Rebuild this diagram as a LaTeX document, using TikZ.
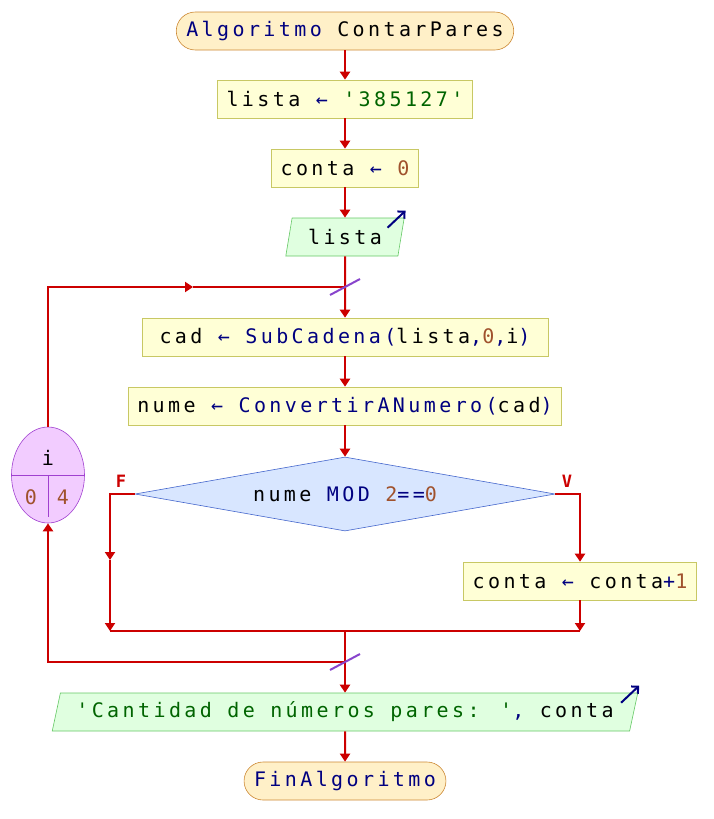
\documentclass[tikz,border=0pt]{standalone}
\usepackage{fontspec}
\newfontfamily\codefont{DejaVu Sans Mono}[LetterSpace=17]
\usetikzlibrary{arrows.meta,shapes.geometric,calc}
\definecolor{kwblue}{HTML}{000080}
\definecolor{strgreen}{HTML}{006400}
\definecolor{numbrown}{HTML}{A0522D}
\definecolor{flowred}{HTML}{CC0000}
\definecolor{termfill}{HTML}{FFF0C8}
\definecolor{termdraw}{HTML}{CC8833}
\definecolor{procfill}{HTML}{FFFFD6}
\definecolor{procdraw}{HTML}{C8C864}
\definecolor{iofill}{HTML}{E0FFE0}
\definecolor{iodraw}{HTML}{66C866}
\definecolor{condfill}{HTML}{D8E6FF}
\definecolor{conddraw}{HTML}{4466CC}
\definecolor{loopfill}{HTML}{F2CCFF}
\definecolor{loopdraw}{HTML}{A040D0}
\definecolor{slashviolet}{HTML}{8844CC}
\newcommand{\kw}[1]{\textcolor{kwblue}{#1}}
\newcommand{\str}[1]{\textcolor{strgreen}{#1}}
\newcommand{\num}[1]{\textcolor{numbrown}{#1}}

\begin{document}
\begin{tikzpicture}[x=1pt,y=-1pt,font={\codefont\fontsize{20pt}{24pt}\selectfont},
    terminal/.style = {rectangle,rounded corners=19pt,draw=termdraw,fill=termfill,semithick,minimum height=38pt,inner xsep=10pt,inner ysep=0pt},
    procbox/.style = {rectangle,draw=procdraw,fill=procfill,semithick,minimum height=38pt,inner xsep=9pt,inner ysep=0pt},
    iobox/.style = {trapezium,trapezium left angle=68,trapezium right angle=112,trapezium stretches body=true,draw=iodraw,fill=iofill,semithick,minimum height=38pt,inner xsep=16pt,inner ysep=0pt},
    decision/.style = {diamond,aspect=5.7,draw=conddraw,fill=condfill,semithick,minimum width=420pt,minimum height=74pt,inner sep=0pt},
    loopvar/.style = {ellipse,draw=loopdraw,fill=loopfill,semithick,minimum width=73pt,minimum height=96pt},
    line/.style = {draw=flowred,line width=2pt},
    flow/.style = {line,-{Triangle[width=10pt,length=8pt]}},
    slash/.style = {draw=slashviolet,line width=2pt},
    outmark/.style = {draw=kwblue,line width=2pt,-{Straight Barb[length=5pt,width=10pt]}},
    tag/.style = {text=flowred,font={\codefont\bfseries\fontsize{17pt}{20pt}\selectfont}}]
\useasboundingbox (0,0) rectangle (713,819);

\node[terminal] (start) at (345,31) {\kw{Algoritmo} ContarPares};
\node[procbox] (lista) at (345,99) {lista \kw{←} \str{'385127'}};
\node[procbox] (conta) at (345,168) {conta \kw{←} \num{0}};
\node[iobox] (leer) at (345,237) {lista};
\node[procbox,minimum width=406pt] (cad) at (345,337) {cad \kw{←} \kw{SubCadena(}lista\kw{,}\num{0}\kw{,}i\kw{)}};
\node[procbox] (nume) at (345,406) {nume \kw{←} \kw{ConvertirANumero(}cad\kw{)}};
\node[decision] (cond) at (345,494) {nume \kw{MOD} \num{2}\kw{==}\num{0}};
\node[procbox] (sumar) at (580,581) {conta \kw{←} conta\kw{+}\num{1}};
\node[iobox] (salida) at (345,712) {\str{'Cantidad de números pares: '}\kw{,} conta};
\node[terminal] (fin) at (345,781) {\kw{FinAlgoritmo}};
\node[loopvar] (ciclo) at (48,475) {};
\node[tag] (ftag) at (121,481) {F};
\node[tag] (vtag) at (567,481) {V};
\node (cvar) at (48,458) {i};
\node (cini) at (31,497) {\num{0}};
\node (cfin) at (63,497) {\num{4}};
\draw[loopdraw,semithick] (ciclo.west) -- (ciclo.east);
\draw[loopdraw,semithick] (ciclo.center) -- (48,517);

\coordinate (top) at (345,287);
\coordinate (lmid) at (193,287);
\coordinate (fmid) at (110,560);
\coordinate (fend) at (110,631);
\coordinate (vend) at (580,631);
\coordinate (join) at (345,631);
\coordinate (bot) at (345,662);

\draw[flow] (start) -- (lista);
\draw[flow] (lista) -- (conta);
\draw[flow] (conta) -- (leer);
\draw[flow] (leer) -- (cad);
\draw[flow] (cad) -- (nume);
\draw[flow] (nume) -- (cond);
\draw[flow] (cond.west) -| (fmid);
\draw[flow] (fmid) -- (fend);
\draw[flow] (cond.east) -| (sumar.north);
\draw[flow] (sumar.south) -- (vend);
\draw[line] (fend) -- (vend);
\draw[flow] (join) -- (salida);
\draw[flow] (salida) -- (fin);
\draw[flow] (bot) -| (ciclo.south);
\draw[flow] (ciclo.north) |- (lmid);
\draw[line] (lmid) -- (top);
\draw[slash] ($(top)+(-15,8)$) -- ($(top)+(15,-8)$);
\draw[slash] ($(bot)+(-15,8)$) -- ($(bot)+(15,-8)$);
\draw[outmark] ($(leer.top right corner)+(-17,10)$) -- ($(leer.top right corner)+(1,-7)$);
\draw[outmark] ($(salida.top right corner)+(-17,10)$) -- ($(salida.top right corner)+(1,-7)$);
\end{tikzpicture}
\end{document}
